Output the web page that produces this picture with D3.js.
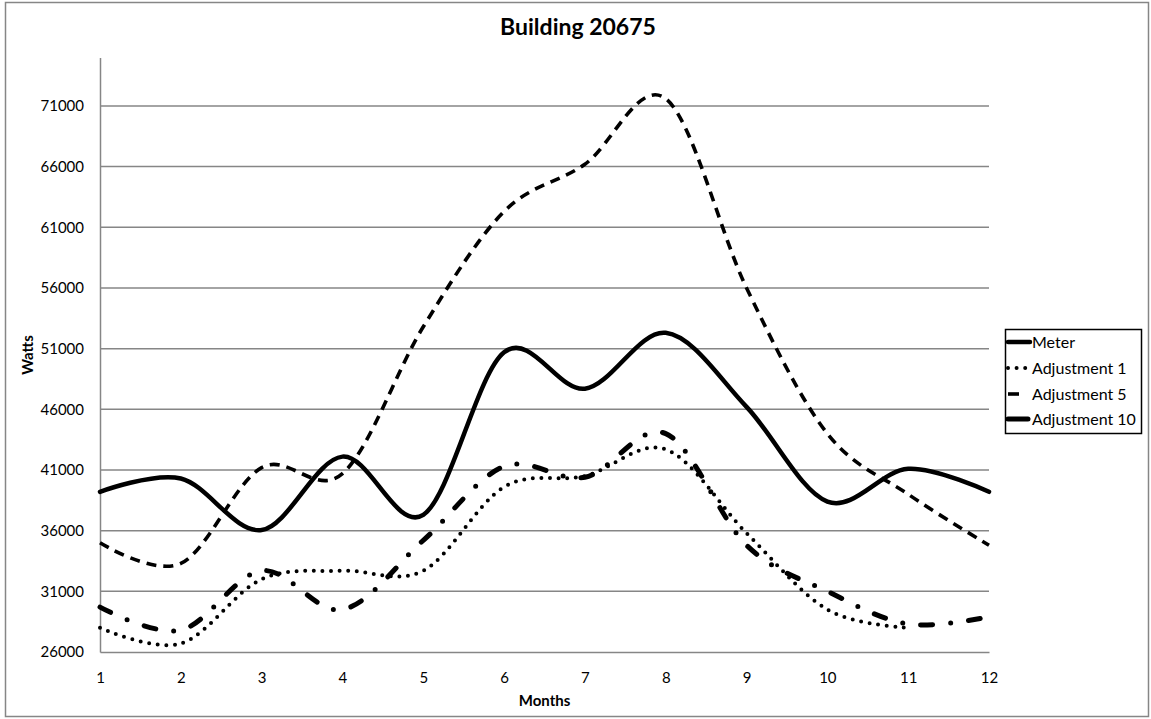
<!DOCTYPE html>
<html>
<head>
<meta charset="utf-8">
<script src="https://cdn.jsdelivr.net/npm/d3@7"></script>
<style>
  html, body { margin: 0; padding: 0; background: #fff; }
  svg { display: block; font-family: Lato, "Open Sans", sans-serif; }
</style>
</head>
<body>
<svg id="chart" width="1151" height="719"></svg>
<script>
const months = [1, 2, 3, 4, 5, 6, 7, 8, 9, 10, 11, 12];
const meter = [39200, 40300, 36050, 42100, 37300, 50700, 47700, 52300, 46200, 38400, 41100, 39200];
const adjustment1 = [28000, 26700, 32000, 32700, 32700, 39600, 40500, 42700, 35800, 29500, 28000];
const adjustment5 = [35000, 33300, 41200, 40700, 52800, 62300, 66200, 71600, 56000, 44000, 39000, 34800];
const adjustment10 = [29700, 27800, 32700, 29500, 35200, 41300, 40400, 44000, 34800, 31000, 28300, 28900];
const yTicks = [26000, 31000, 36000, 41000, 46000, 51000, 56000, 61000, 66000, 71000];
const seriesNames = ["Meter", "Adjustment 1", "Adjustment 5", "Adjustment 10"];

const svg = d3.select("#chart");
const plot = { left: 100, right: 989, top: 57.4, bottom: 652 };

const x = d3.scaleLinear().domain([1, 12]).range([plot.left, plot.right]);
const y = d3.scaleLinear().domain([26000, 75000]).range([plot.bottom, plot.top]);

const gray = "#868686";

// outer border
svg.append("rect").attr("x", 5.5).attr("y", 2.5).attr("width", 1143).attr("height", 714)
  .attr("fill", "none").attr("stroke", gray).attr("stroke-width", 1.5);

// title
svg.append("text").attr("x", 578).attr("y", 35).attr("text-anchor", "middle")
  .attr("font-weight", "bold").attr("font-size", 23).attr("fill", "#000").text("Building 20675");

// gridlines
svg.append("g").selectAll("line").data(yTicks.slice(1)).join("line")
  .attr("x1", plot.left).attr("x2", plot.right)
  .attr("y1", d => y(d)).attr("y2", d => y(d))
  .attr("stroke", gray).attr("stroke-width", 1.5);

// y axis
const yAxis = d3.axisLeft(y).tickValues(yTicks).tickSize(0).tickPadding(16).tickFormat(d3.format("d"));
const gy = svg.append("g").attr("transform", `translate(${plot.left},0)`).call(yAxis);
gy.select(".domain").attr("stroke", gray).attr("stroke-width", 1.5);
gy.selectAll("text").attr("font-size", 15).attr("fill", "#000").attr("font-family", "Lato, sans-serif");

// x axis
const xAxis = d3.axisBottom(x).tickValues(months).tickSize(0).tickPadding(20).tickFormat(d3.format("d"));
const gx = svg.append("g").attr("transform", `translate(0,${plot.bottom})`).call(xAxis);
gx.select(".domain").attr("stroke", gray).attr("stroke-width", 1.5);
gx.selectAll("text").attr("font-size", 15).attr("fill", "#000").attr("font-family", "Lato, sans-serif");

// axis titles
svg.append("text").attr("x", (plot.left + plot.right) / 2).attr("y", 706).attr("text-anchor", "middle")
  .attr("font-weight", "bold").attr("font-size", 15).text("Months");
svg.append("text").attr("transform", "translate(33,355) rotate(-90)").attr("text-anchor", "middle")
  .attr("font-weight", "bold").attr("font-size", 15).text("Watts");

const styles = [
  { width: 4.5, dash: null, cap: "round" },
  { width: 4, dash: "0 8.6", cap: "round" },
  { width: 3.6, dash: "10 7", cap: "butt" },
  { width: 5, dash: "12 18 0 18", cap: "round" }
];
const allSeries = [meter, adjustment1, adjustment5, adjustment10];

const line = d3.line().x((d, i) => x(months[i])).y(d => y(d)).curve(d3.curveCardinal.tension(0));

const order = [2, 3, 1, 0];
order.forEach(k => {
  const s = styles[k];
  const p = svg.append("path").datum(allSeries[k]).attr("d", line)
    .attr("fill", "none").attr("stroke", "#000").attr("stroke-width", s.width)
    .attr("stroke-linecap", s.cap).attr("stroke-linejoin", "round");
  if (s.dash) p.attr("stroke-dasharray", s.dash);
});

// legend
const lg = svg.append("g");
lg.append("rect").attr("x", 1005.5).attr("y", 329.5).attr("width", 136).attr("height", 104)
  .attr("fill", "#fff").attr("stroke", "#000").attr("stroke-width", 1.5);
const legendY = [342, 368, 394, 419];
const legendSample = [
  { x1: 1008, x2: 1030 },
  { x1: 1008, x2: 1030 },
  { x1: 1008, x2: 1019 },
  { x1: 1008, x2: 1028 }
];
seriesNames.forEach((name, k) => {
  const s = styles[k];
  const l = lg.append("line").attr("x1", legendSample[k].x1).attr("x2", legendSample[k].x2)
    .attr("y1", legendY[k]).attr("y2", legendY[k])
    .attr("stroke", "#000").attr("stroke-width", s.width).attr("stroke-linecap", k === 2 ? "butt" : "round");
  if (k === 1) l.attr("stroke-dasharray", "0 8.6");
  lg.append("text").attr("x", 1032).attr("y", legendY[k]).attr("dy", "0.35em")
    .attr("font-size", 16).attr("fill", "#000").text(name);
});
</script>
</body>
</html>
